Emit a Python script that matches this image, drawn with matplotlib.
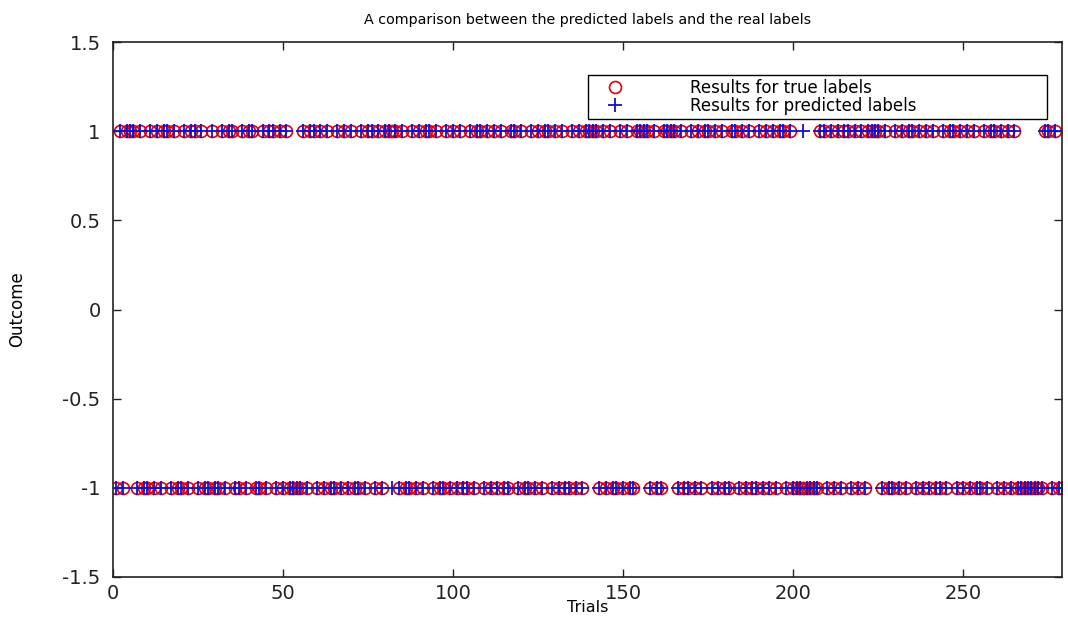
import matplotlib
matplotlib.use("Agg")
import matplotlib.pyplot as plt

plt.rcParams['axes.unicode_minus'] = False
plt.rcParams['font.family'] = ['DejaVu Sans']

# True labels per trial (+ = 1, - = -1), read in chunks of 10 trials
true_chunks = [
    "-+-+++-+--", "+-+-++-+--", "+-++-+--+-", "-+-++--+-+", "+--+-++-+-",
    "+----+-++-", "+-+--+-+-+", "--+-++-+-+", "+++-+--+-+", "-++-+--+-+",
    "-+--+-++-+", "-+-+--++-+", "--+-+-++-+", "-+--+-+-++", "++-+-+--+-",
    "+--++++-+-", "-++++-+--+", "-+-++-+-+-", "-++-+-+--+", "-+-+-++-+-",
    "-------++-", "+-+-++-+-+", "-++++-+--+", "-+-++-+-+-", "+--+-++-+-",
    "+-+--+-++-", "+-+-+-----", "---++-+--",
]
true_labels = [1 if c == "+" else -1 for c in "".join(true_chunks)]
trials = list(range(1, len(true_labels) + 1))

# Trials where the predicted label differs from the true one
wrong_trials = [82, 203]
predicted_labels = [(-v if t in wrong_trials else v) for t, v in zip(trials, true_labels)]

xticks = [0, 50, 100, 150, 200, 250]
yticks = [-1.5, -1, -0.5, 0, 0.5, 1, 1.5]
ytick_labels = ["-1.5", "-1", "-0.5", "0", "0.5", "1", "1.5"]

W, H = 1068, 628
fig = plt.figure(figsize=(W / 100, H / 100), dpi=100)
L, R, T, B = 113, 1062, 42, 577
ax = fig.add_axes([L / W, 1 - B / H, (R - L) / W, (B - T) / H])

ax.plot(trials, true_labels, linestyle="none", marker="o", markersize=8.6,
        markerfacecolor="none", markeredgecolor="#dd0010", markeredgewidth=1.2,
        label="Results for true labels")
ax.plot(trials, predicted_labels, linestyle="none", marker="+", markersize=9.5,
        color="#1010d0", markeredgewidth=1.3, label="Results for predicted labels")

ax.set_xlim(0, 279)
ax.set_ylim(-1.5, 1.5)
ax.set_xticks(xticks)
ax.set_xticklabels([str(x) for x in xticks])
ax.set_yticks(yticks)
ax.set_yticklabels(ytick_labels)
ax.tick_params(direction="in", top=True, right=True, length=6, width=1,
               labelsize=14, colors="#222222")
ax.tick_params(axis="y", pad=9)
ax.tick_params(axis="x", pad=5)
for s in ax.spines.values():
    s.set_linewidth(1.2)
    s.set_color("#222222")

ax.set_title("A comparison between the predicted labels and the real labels",
             fontsize=10.3, pad=13)
ax.set_xlabel("Trials", fontsize=11.5)
ax.xaxis.set_label_coords(0.5, -0.043)
ax.set_ylabel("Outcome", fontsize=12)
ax.yaxis.set_label_coords(-0.092, 0.5)

x0 = (588 - L) / (R - L)
x1 = (1047 - L) / (R - L)
ytop = (B - 75) / (B - T)
leg = ax.legend(loc="upper left", bbox_to_anchor=(x0, ytop - 0.15, x1 - x0, 0.15),
                mode="expand", borderaxespad=0, fontsize=12, numpoints=1,
                handlelength=2.7, handletextpad=3.2, borderpad=0.25,
                labelspacing=0.0, fancybox=False, framealpha=1,
                edgecolor="black")
leg.get_frame().set_linewidth(1.0)

fig.savefig("out.png", dpi=100)
